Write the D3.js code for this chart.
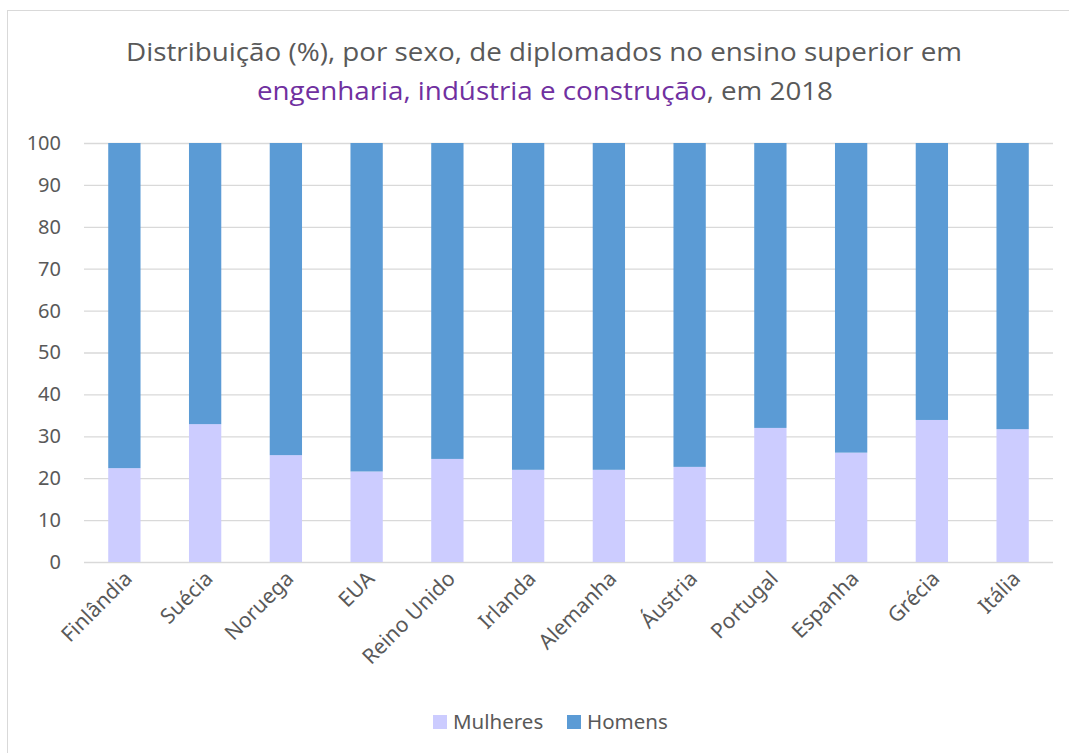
<!DOCTYPE html>
<html><head><meta charset="utf-8">
<script src="https://cdn.jsdelivr.net/npm/d3@7"></script>
<style>body{margin:0;background:#fff}svg{display:block}</style>
</head><body>
<svg id="c" width="1069" height="753"></svg>
<script>
const categories = ["Finlândia","Suécia","Noruega","EUA","Reino Unido","Irlanda","Alemanha","Áustria","Portugal","Espanha","Grécia","Itália"];
const mulheres = [22.4, 32.9, 25.5, 21.6, 24.6, 22.0, 22.0, 22.7, 32.0, 26.1, 33.9, 31.7];
const homens = mulheres.map(v => 100 - v);
const yTicks = [0,10,20,30,40,50,60,70,80,90,100];
const seriesNames = ["Mulheres","Homens"];
const colors = ["#CCCCFF","#5B9BD5"];

const svg = d3.select("#c");
const font = "'Noto Sans', 'Open Sans', sans-serif";
const grey = "#595959";

// border
svg.append("rect").attr("x",7.5).attr("y",10.5).attr("width",1080).attr("height",760)
  .attr("fill","#fff").attr("stroke","#D9D9D9").attr("stroke-width",1);

const m = {left:84, right:1053, top:143, bottom:562};
const x = d3.scaleBand().domain(categories).range([m.left, m.right]).padding(0);
const y = d3.scaleLinear().domain([0,100]).range([m.bottom, m.top]);

// gridlines
svg.append("g").selectAll("line").data(yTicks).join("line")
  .attr("x1",m.left).attr("x2",m.right)
  .attr("y1",d=>y(d)+0.5).attr("y2",d=>y(d)+0.5)
  .attr("stroke","#D9D9D9").attr("stroke-width",1.3);

// y axis
const ya = svg.append("g").attr("transform",`translate(${m.left},0)`)
  .call(d3.axisLeft(y).tickValues(yTicks).tickSize(0).tickPadding(23));
ya.select(".domain").remove();
ya.selectAll("text").attr("font-family",font).attr("font-size",20).attr("fill",grey);

// stacked bars
const data = categories.map((c,i)=>({cat:c, Mulheres:mulheres[i], Homens:homens[i]}));
const stack = d3.stack().keys(seriesNames)(data);
const bw = x.bandwidth()*0.4;
svg.append("g").selectAll("g").data(stack).join("g")
  .attr("fill",(d,i)=>colors[i])
  .selectAll("rect").data(d=>d).join("rect")
  .attr("x",d=>x(d.data.cat)+(x.bandwidth()-bw)/2)
  .attr("width",bw)
  .attr("y",d=>y(d[1]))
  .attr("height",d=>y(d[0])-y(d[1]));

// x axis labels
const xa = svg.append("g").attr("transform",`translate(0,${m.bottom})`)
  .call(d3.axisBottom(x).tickSize(0).tickPadding(0));
xa.select(".domain").remove();
xa.selectAll("text")
  .attr("font-family",font).attr("font-size",21).attr("fill",grey)
  .attr("text-anchor","end").attr("dy",null)
  .attr("transform","translate(9,18) rotate(-45)");

// title
const tf = "'Open Sans', 'Noto Sans', sans-serif";
const t1 = svg.append("text").attr("x",544).attr("y",61).attr("text-anchor","middle")
  .attr("font-family",tf).attr("font-size",25).attr("fill",grey)
  .attr("textLength",836).attr("lengthAdjust","spacingAndGlyphs")
  .text("Distribuição (%), por sexo, de diplomados no ensino superior em");
const t2 = svg.append("text").attr("x",545).attr("y",100).attr("text-anchor","middle")
  .attr("font-family",tf).attr("font-size",25).attr("fill",grey)
  .attr("textLength",576).attr("lengthAdjust","spacingAndGlyphs");
t2.append("tspan").attr("fill","#7030A0").text("engenharia, indústria e construção");
t2.append("tspan").text(", em 2018");

// legend
const lg = svg.append("g");
const legX = [433, 567];
seriesNames.forEach((s,i)=>{
  lg.append("rect").attr("x",legX[i]).attr("y",715).attr("width",14).attr("height",14).attr("fill",colors[i]);
  lg.append("text").attr("x",legX[i]+20).attr("y",729).attr("font-family",font).attr("font-size",20.5)
    .attr("fill",grey).text(s);
});
</script>
</body></html>
